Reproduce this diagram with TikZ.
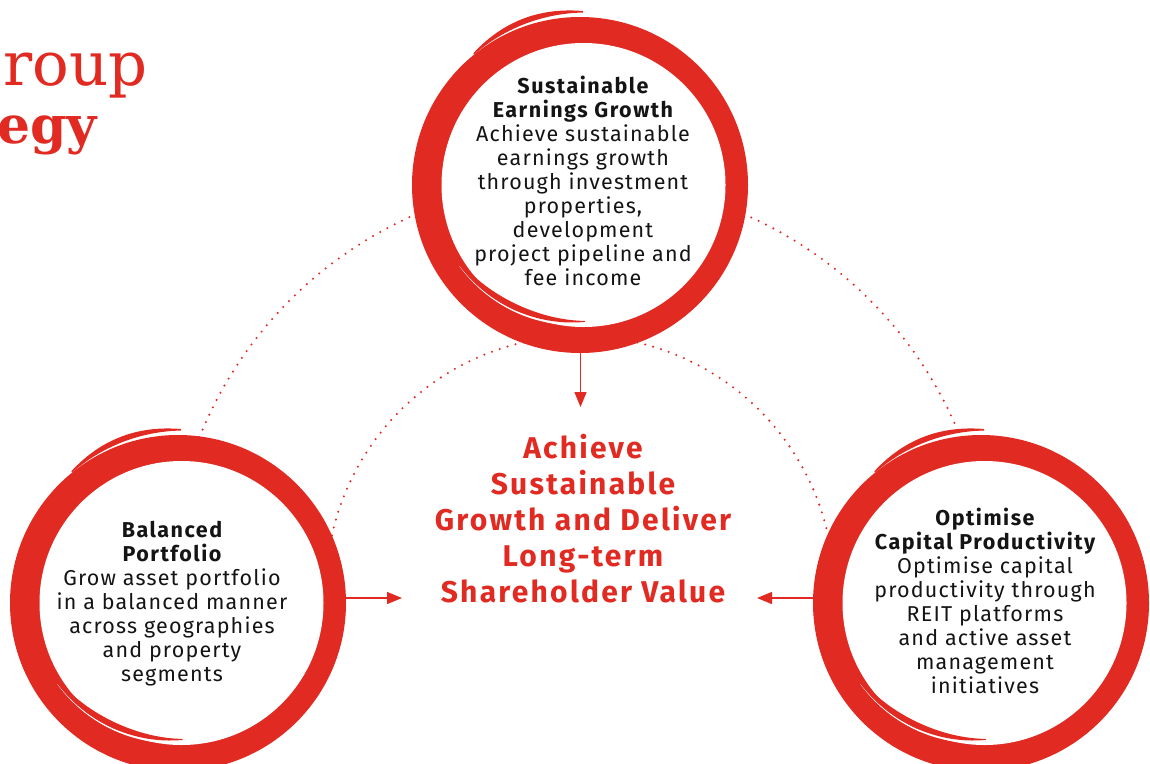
\documentclass[tikz,border=0pt]{standalone}
\usepackage{fontspec}
\setmainfont{Fira Sans}
\newfontfamily\titleserif{DejaVu Serif}
\newfontfamily\titleslab{DejaVu Serif}
\newfontfamily\headfont{Fira Sans}[LetterSpace=7]
\newfontfamily\goalfont{Fira Sans}[LetterSpace=7.5]
\IfFontExistsTF{FiraSans-Light.otf}
  {\newfontfamily\bodyfont{FiraSans-Light.otf}[LetterSpace=5.5]}
  {\newfontfamily\bodyfont{Fira Sans}[LetterSpace=5.5]}
\usetikzlibrary{arrows.meta}
\definecolor{brand}{RGB}{225,42,34}
\definecolor{ink}{RGB}{20,20,20}
\newcommand{\ringhead}[1]{{\headfont\bfseries #1}}

\tikzset{
  brushring/.pic={
    \fill[brand] (0,0) circle (168);
    \fill[white] (3.5,0) circle (142);
    % outer swoosh at top left
    \fill[brand] plot[domain=0:1,samples=40,variable=\s] ({-89-40*\s}:{168+4.5*(1-\s)+1.5+4*sin(180*\s)})
       -- plot[domain=1:0,samples=40,variable=\s] ({-89-40*\s}:{168+4.5*(1-\s)}) -- cycle;
    % white gap line inside at bottom left
    \fill[white] plot[domain=0:1,samples=40,variable=\s] ({146-58*\s}:{145-8*\s})
       -- plot[domain=1:0,samples=40,variable=\s] ({146-58*\s}:{145-8*\s+0.4+2.5*\s}) -- cycle;
    % inner crescent
    \fill[brand] plot[domain=0:1,samples=40,variable=\s] ({146-58*\s}:{145-8*\s})
       -- plot[domain=1:0,samples=40,variable=\s] ({146-58*\s}:{145-8*\s-(1+4*sin(180*\s)+2*(1-\s))}) -- cycle;
  },
  ringnode/.style={circle, minimum size=336pt, inner sep=0pt},
  ringtext/.style={anchor=base, align=center, inner sep=0pt, text=ink,
    font=\bodyfont\fontsize{21.5}{24}\selectfont},
  goaltext/.style={anchor=base, align=center, inner sep=0pt, text=brand,
    font=\goalfont\bfseries\fontsize{30}{35.8}\selectfont},
  dots/.style={brand, line width=2.3pt, line cap=round, dash pattern=on 0pt off 8.2pt},
  arr/.style={brand, line width=1.3pt, -{Triangle[length=15pt,width=12pt]}},
}

\begin{document}
\begin{tikzpicture}[x=1pt, y=-1pt]
\useasboundingbox (0,0) rectangle (1150,763);
\clip (0,0) rectangle (1150,763);

% title (cropped at the left edge, as in the reference)
\node[anchor=base east, inner sep=0pt, text=brand, font=\titleserif\fontsize{61}{61}\selectfont] (grp) at (148,85) {Group};
\node[anchor=base east, inner sep=0pt, text=brand, font=\titleslab\bfseries\fontsize{52}{52}\selectfont] (strat) at (97,143) {Strategy};

% dotted arcs
\coordinate (arcc) at (580,590);
\draw[dots] (arcc) ++(-165:410) arc[start angle=-165, end angle=-15, radius=410];
\draw[dots] (arcc) ++(-175:254) arc[start angle=-175, end angle=-5, radius=254];

% rings
\node[ringnode] (top) at (580,185) {};
\node[ringnode] (left) at (178,603) {};
\node[ringnode] (right) at (981,603) {};
\pic at (top) {brushring};
\pic at (left) {brushring};
\pic at (right) {brushring};

% texts (anchor = baseline of the last line)
\node[ringtext] (ttext) at (583,285) {\ringhead{Sustainable}\\\ringhead{Earnings Growth}\\Achieve sustainable\\earnings growth\\through investment\\properties,\\development\\project pipeline and\\fee income};
\node[ringtext] (ltext) at (172,681) {\ringhead{Balanced}\\\ringhead{Portfolio}\\Grow asset portfolio\\in a balanced manner\\across geographies\\and property\\segments};
\node[ringtext] (rtext) at (985,693) {\ringhead{Optimise}\\\ringhead{Capital Productivity}\\Optimise capital\\productivity through\\REIT platforms\\and active asset\\management\\initiatives};
\node[goaltext] (goal) at (583,602) {Achieve\\Sustainable\\Growth and Deliver\\Long-term\\Shareholder Value};

% arrows
\coordinate (tipT) at (580.5,407);
\coordinate (tipL) at (402,598);
\coordinate (tipR) at (757,598);
\draw[arr] (top.south -| tipT) -- (tipT);
\draw[arr] (left.east |- tipL) -- (tipL);
\draw[arr] (right.west |- tipR) -- (tipR);
\end{tikzpicture}
\end{document}
